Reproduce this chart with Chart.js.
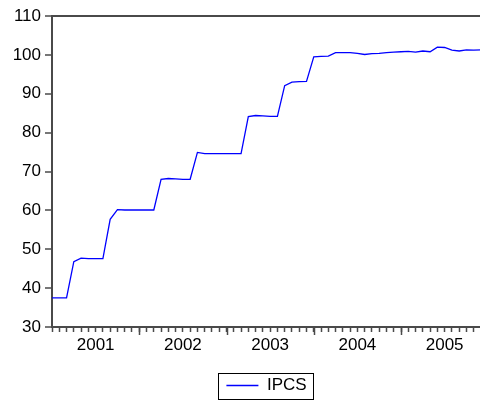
<!DOCTYPE html>
<html>
<head>
<meta charset="utf-8">
<script src="https://cdn.jsdelivr.net/npm/chart.js@4.4.1/dist/chart.umd.min.js"></script>
<style>
    html, body { margin: 0; padding: 0; background: #fff; overflow: hidden; }
    #wrap { width: 480px; height: 400px; overflow: hidden; position: relative; }
    canvas { position: absolute; left: 0; top: 0; }
</style>
</head>
<body>
<div id="wrap"><canvas id="chart" width="484" height="404"></canvas></div>
<script>
// ─── Data ─────────────────────────────────────────────

const months = [
    '2001M01', '2001M02', '2001M03', '2001M04', '2001M05', '2001M06',
    '2001M07', '2001M08', '2001M09', '2001M10', '2001M11', '2001M12',
    '2002M01', '2002M02', '2002M03', '2002M04', '2002M05', '2002M06',
    '2002M07', '2002M08', '2002M09', '2002M10', '2002M11', '2002M12',
    '2003M01', '2003M02', '2003M03', '2003M04', '2003M05', '2003M06',
    '2003M07', '2003M08', '2003M09', '2003M10', '2003M11', '2003M12',
    '2004M01', '2004M02', '2004M03', '2004M04', '2004M05', '2004M06',
    '2004M07', '2004M08', '2004M09', '2004M10', '2004M11', '2004M12',
    '2005M01', '2005M02', '2005M03', '2005M04', '2005M05', '2005M06',
    '2005M07', '2005M08', '2005M09', '2005M10', '2005M11', '2005M12',
];

const ipcs = [
    37.5, 37.5, 37.5, 46.8, 47.7, 47.6, 47.6, 47.6, 57.7, 60.2, 60.1, 60.1,
    60.1, 60.1, 60.1, 68.0, 68.2, 68.1, 68.0, 68.0, 74.9, 74.6, 74.6, 74.6,
    74.6, 74.6, 74.6, 84.1, 84.4, 84.3, 84.2, 84.2, 92.1, 93.0, 93.1, 93.2,
    99.5, 99.6, 99.7, 100.6, 100.6, 100.6, 100.4, 100.1, 100.3, 100.4, 100.6, 100.7,
    100.8, 100.9, 100.7, 101.0, 100.8, 102.0, 101.9, 101.2, 101.0, 101.3, 101.2, 101.3,
];

const yearLabels = ['2001', '2002', '2003', '2004', '2005'];
const yMin = 30, yMax = 110, yStep = 10;

// ─── Styles ───────────────────────────────────────────

const AXIS = '#4a4a4a';
const FONT = { family: "'Liberation Sans', Arial, sans-serif", size: 17 };

// ─── Plugins ──────────────────────────────────────────

// longer tick marks at each January
const majorTicks = {
    id: 'majorTicks',
    afterDraw(chart) {
        const x = chart.scales.x;
        const ctx = chart.ctx;
        ctx.save();
        ctx.strokeStyle = AXIS;
        ctx.lineWidth = 1.5;
        months.forEach((m, i) => {
            if (i === 0 || i % 12 !== 0) return;
            const px = Math.round(x.getPixelForValue(i)) + 0.5;
            ctx.beginPath();
            ctx.moveTo(px, x.top);
            ctx.lineTo(px, x.top + 8);
            ctx.stroke();
        });
        ctx.restore();
    },
};

// frame around the legend item
const legendFrame = {
    id: 'legendFrame',
    afterDraw(chart) {
        const hb = chart.legend?.legendHitBoxes?.[0];
        if (!hb) return;
        const ctx = chart.ctx;
        const cy = hb.top + hb.height / 2;
        ctx.save();
        ctx.strokeStyle = '#000';
        ctx.lineWidth = 1;
        ctx.strokeRect(Math.round(hb.left - 8) + 0.5, Math.round(cy - 13) + 0.5,
                       Math.round(hb.width + 15), 26);
        ctx.restore();
    },
};

// ─── Chart ────────────────────────────────────────────

new Chart(document.getElementById('chart').getContext('2d'), {
    type: 'line',
    data: {
        labels: months,
        datasets: [{
            label: 'IPCS',
            data: ipcs,
            borderColor: '#0000ff',
            backgroundColor: '#0000ff',
            borderWidth: 1.3,
            pointRadius: 0,
            tension: 0,
            pointStyle: 'line',
        }],
    },
    options: {
        responsive: false,
        devicePixelRatio: 1,
        animation: false,
        layout: { padding: { top: 16, left: 0, right: 0, bottom: 0 } },
        plugins: {
            tooltip: { enabled: false },
            legend: {
                position: 'bottom',
                fullSize: false,
                labels: {
                    color: '#000',
                    font: FONT,
                    usePointStyle: true,
                    pointStyleWidth: 32,
                    padding: 10,
                },
            },
        },
        scales: {
            x: {
                type: 'category',
                offset: false,
                afterFit: s => { s.height = 40; },
                border: { display: true, color: AXIS, width: 2 },
                grid: {
                    drawOnChartArea: false,
                    drawTicks: true,
                    tickLength: 5,
                    tickColor: AXIS,
                    tickWidth: 1.5,
                },
                ticks: {
                    autoSkip: false,
                    maxRotation: 0,
                    padding: 3,
                    color: '#000',
                    font: FONT,
                    callback: (v, i) => (i % 12 === 6 ? yearLabels[Math.floor(i / 12)] : ''),
                },
            },
            y: {
                min: yMin,
                max: yMax,
                afterFit: s => { s.width = 52; },
                border: { display: true, color: AXIS, width: 2 },
                grid: {
                    drawOnChartArea: true,
                    color: c => (c.tick && c.tick.value === yMax ? AXIS : 'rgba(0,0,0,0)'),
                    lineWidth: c => (c.tick && c.tick.value === yMax ? 2 : 0),
                    tickLength: 7,
                    tickColor: AXIS,
                    tickWidth: 1.5,
                },
                ticks: {
                    stepSize: yStep,
                    padding: 4,
                    color: '#000',
                    font: FONT,
                },
            },
        },
    },
    plugins: [majorTicks, legendFrame],
});
</script>
</body>
</html>
